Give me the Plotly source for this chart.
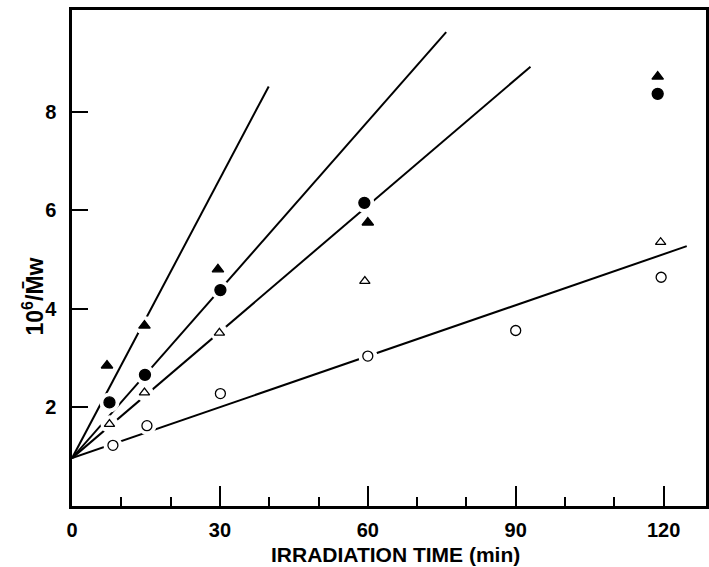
import plotly.graph_objects as go

# ---- data ----
tri_f_x = [7.1, 14.7, 29.6, 60.0, 118.8]
tri_f_y = [2.85, 3.66, 4.80, 5.75, 8.71]
circ_f_x = [7.6, 14.8, 30.1, 59.3, 118.8]
circ_f_y = [2.10, 2.66, 4.38, 6.15, 8.36]
tri_o_x = [7.6, 14.7, 29.9, 59.4, 119.4]
tri_o_y = [1.66, 2.30, 3.51, 4.56, 5.35]
circ_o_x = [8.3, 15.2, 30.1, 60.0, 90.0, 119.5]
circ_o_y = [1.23, 1.63, 2.28, 3.04, 3.56, 4.64]

# fitted lines: common start and individual end points
line_start = (0.0, 0.97)
line_end_x = [39.9, 75.9, 93.0, 124.7]
line_end_y = [8.51, 9.61, 8.91, 5.27]

x_ticks = [0, 30, 60, 90, 120]
y_ticks = [2, 4, 6, 8]

FONT = "Liberation Sans"

fig = go.Figure()

for ex, ey in zip(line_end_x, line_end_y):
    fig.add_trace(go.Scatter(x=[line_start[0], ex], y=[line_start[1], ey],
                             mode="lines", line=dict(color="black", width=2),
                             hoverinfo="skip", showlegend=False))

series = [
    (tri_f_x, tri_f_y, "triangle-up", "black", 10),
    (circ_f_x, circ_f_y, "circle", "black", 11),
    (tri_o_x, tri_o_y, "triangle-up", "white", 9),
    (circ_o_x, circ_o_y, "circle", "white", 10),
]

# white halos to break the lines around the markers
for xs, ys, sym, fill, sz in series:
    fig.add_trace(go.Scatter(x=xs, y=ys, mode="markers",
                             marker=dict(symbol="circle", size=sz + 9, color="white",
                                         line=dict(width=0)),
                             hoverinfo="skip", showlegend=False))
for xs, ys, sym, fill, sz in series:
    fig.add_trace(go.Scatter(x=xs, y=ys, mode="markers",
                             marker=dict(symbol=sym, size=sz, color=fill,
                                         line=dict(color="black", width=1.3)),
                             showlegend=False))

fig.update_layout(
    width=709, height=567,
    margin=dict(l=72, r=3, t=10, b=61),
    paper_bgcolor="white", plot_bgcolor="white",
    font=dict(family=FONT, color="black", size=20),
    xaxis=dict(range=[0, 128.6], tickvals=x_ticks, ticks="inside", ticklen=20,
               tickwidth=2, tickcolor="black", showline=True, linecolor="black",
               linewidth=2.5, mirror=True, showgrid=False, zeroline=False,
               automargin=False, ticklabelstandoff=4,
               tickfont=dict(family=FONT, size=20, weight="bold"),
               minor=dict(dtick=10, ticks="inside", ticklen=9, tickwidth=1.5,
                          tickcolor="black", showgrid=False)),
    yaxis=dict(range=[0, 10.06], tickvals=y_ticks, ticks="inside", ticklen=16,
               tickwidth=2, tickcolor="black", showline=True, linecolor="black",
               linewidth=2.5, mirror=True, showgrid=False, zeroline=False,
               automargin=False, ticklabelstandoff=9,
               tickfont=dict(family=FONT, size=20, weight="bold")),
    annotations=[
        dict(text="IRRADIATION TIME (min)", xref="paper", yref="paper",
             x=0.511, y=-0.0968, xanchor="center", yanchor="middle",
             showarrow=False, font=dict(family=FONT, size=21, weight="bold")),
        dict(text="10<sup>6</sup>/M\u0304w", xref="paper", yref="paper",
             x=-0.061, y=0.423, xanchor="center", yanchor="middle",
             textangle=-90, showarrow=False,
             font=dict(family=FONT, size=23, weight="bold")),
    ],
)

fig.write_html("out.html")
